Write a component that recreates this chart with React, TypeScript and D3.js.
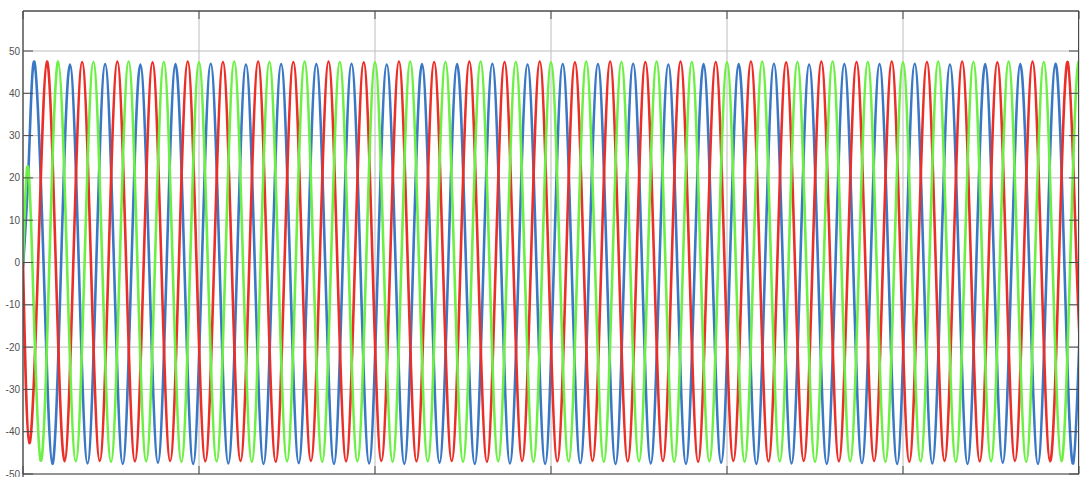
import React from "react";
import * as d3 from "d3";

// ---- data ----
// time axis: 0 .. 0.6 s, 50 Hz three-phase signals
const T_START = 0;
const T_END = 0.6;
const HALF_PERIOD = 0.01; // spacing between successive extrema (s)
const xGrid = [0, 0.1, 0.2, 0.3, 0.4, 0.5, 0.6];
const yTicks = [-50, -40, -30, -20, -10, 0, 10, 20, 30, 40, 50];
const Y_MIN = -50;

// start-up transient points [t, value]
const blueStart: [number, number][] = [[0, -1], [0.0033, 24]];
const redStart: [number, number][] = [[0, 0]];
const greenStart: [number, number][] = [[0, 0], [0.0024, 22.5], [0.0053, 0]];

// time of first regular extremum of each phase
const blueFirst = 0.00667;
const redFirst = 0.0036;
const greenFirst = 0.01;

// successive extrema (alternating peak / trough)
const blueExtrema = [
  47.1, -47.6, 46.8, -47.5, 46.9, -47.6, 46.8, -47.3, 46.9, -47.6,
  47.0, -47.5, 46.8, -47.6, 46.9, -47.4, 46.9, -47.6, 47.0, -47.5,
  46.8, -47.6, 46.9, -47.3, 46.9, -47.6, 47.0, -47.5, 46.8, -47.6,
  46.9, -47.4, 46.9, -47.6, 47.0, -47.5, 46.8, -47.6, 46.9, -47.3,
  46.9, -47.6, 47.0, -47.5, 46.8, -47.6, 46.9, -47.4, 46.9, -47.6,
  47.0, -47.5, 46.8, -47.6, 46.9, -47.3, 46.9, -47.6, 47.0, -47.5, 46.9,
];
const redExtrema = [
  -42.7, 47.5, -47.0, 47.4, -46.9, 47.5, -47.0, 47.3, -46.9, 47.5,
  -47.0, 47.4, -46.9, 47.5, -47.1, 47.4, -46.9, 47.5, -47.0, 47.3,
  -46.9, 47.5, -47.0, 47.4, -46.9, 47.5, -47.1, 47.4, -46.9, 47.5,
  -47.0, 47.3, -46.9, 47.5, -47.0, 47.4, -46.9, 47.5, -47.1, 47.4,
  -46.9, 47.5, -47.0, 47.3, -46.9, 47.5, -47.0, 47.4, -46.9, 47.5,
  -47.1, 47.4, -46.9, 47.5, -47.0, 47.3, -46.9, 47.5, -47.0, 47.4, -46.9,
];
const greenExtrema = [
  -46.8, 47.5, -47.0, 47.4, -47.1, 47.5, -47.0, 47.4, -47.1, 47.3,
  -47.0, 47.5, -47.1, 47.4, -47.0, 47.5, -47.1, 47.4, -47.0, 47.3,
  -47.1, 47.5, -47.0, 47.4, -47.1, 47.5, -47.0, 47.4, -47.1, 47.3,
  -47.0, 47.5, -47.1, 47.4, -47.0, 47.5, -47.1, 47.4, -47.0, 47.3,
  -47.1, 47.5, -47.0, 47.4, -47.1, 47.5, -47.0, 47.4, -47.1, 47.3,
  -47.0, 47.5, -47.1, 47.4, -47.0, 47.5, -47.1, 47.4, -47.0, 47.5, -47.1,
];

const seriesDefs = [
  { name: "A", color: "#3a78c6", start: blueStart, first: blueFirst, extrema: blueExtrema },
  { name: "B", color: "#ec2e28", start: redStart, first: redFirst, extrema: redExtrema },
  { name: "C", color: "#6cf044", start: greenStart, first: greenFirst, extrema: greenExtrema },
];

// build the points: extrema with zero crossings half-way between them
function buildPoints(def: typeof seriesDefs[number]): [number, number][] {
  const pts: [number, number][] = [...def.start];
  def.extrema.forEach((v, k) => {
    const t = def.first + k * HALF_PERIOD;
    if (k > 0) pts.push([t - HALF_PERIOD / 2, 0]);
    pts.push([t, v]);
  });
  return pts;
}

const W = 1080;
const H = 477;
const LEFT = 23;
const RIGHT = 1079;
const TOP = 11;

export default function App() {
  const x = d3.scaleLinear().domain([T_START, T_END]).range([LEFT, RIGHT]);
  const y = d3.scaleLinear().domain([Y_MIN, 50]).range([474, 51]);
  const bottom = y(Y_MIN);
  const line = d3
    .line<[number, number]>()
    .x((d) => x(d[0]))
    .y((d) => y(d[1]))
    .curve(d3.curveNatural);

  const frameColor = "#4a4a4a";
  const gridColor = "#bdbdbd";

  return (
    <svg
      width={W}
      height={H}
      style={{ position: "absolute", left: 0, top: 0, background: "#fff" }}
      fontFamily="'Liberation Sans', Arial, sans-serif"
    >
      <defs>
        <clipPath id="plotClip">
          <rect x={LEFT} y={TOP} width={RIGHT - LEFT} height={bottom - TOP} />
        </clipPath>
      </defs>
      {/* grid */}
      {yTicks.map((v) => (
        <line key={"gy" + v} x1={LEFT} x2={RIGHT} y1={y(v)} y2={y(v)} stroke={gridColor} strokeWidth={1} />
      ))}
      {xGrid.map((v) => (
        <line key={"gx" + v} x1={x(v)} x2={x(v)} y1={TOP} y2={bottom} stroke={gridColor} strokeWidth={1} />
      ))}
      {/* series */}
      <g clipPath="url(#plotClip)">
        {seriesDefs.map((s) => (
          <path
            key={s.name}
            d={line(buildPoints(s)) || ""}
            fill="none"
            stroke={s.color}
            strokeWidth={2.6}
            strokeLinejoin="round"
          />
        ))}
      </g>
      {/* frame */}
      <line x1={LEFT} x2={RIGHT} y1={TOP} y2={TOP} stroke={frameColor} strokeWidth={1.3} />
      <line x1={LEFT} x2={LEFT} y1={TOP} y2={bottom + 3} stroke={frameColor} strokeWidth={1.3} />
      <line x1={RIGHT - 0.5} x2={RIGHT - 0.5} y1={TOP} y2={bottom} stroke={frameColor} strokeWidth={1} />
      <line x1={LEFT} x2={RIGHT} y1={bottom} y2={bottom} stroke={frameColor} strokeWidth={1} />
      {/* y ticks */}
      {yTicks.map((v) => (
        <g key={"ty" + v}>
          <line x1={LEFT} x2={LEFT + 10} y1={y(v)} y2={y(v)} stroke={frameColor} strokeWidth={1} />
          <line x1={RIGHT - 10} x2={RIGHT} y1={y(v)} y2={y(v)} stroke={frameColor} strokeWidth={1} />
          <text x={LEFT - 3} y={y(v)} dy="0.35em" textAnchor="end" fontSize={10} fill="#505050">
            {v}
          </text>
        </g>
      ))}
      {/* x ticks */}
      {xGrid.map((v) => (
        <g key={"tx" + v}>
          <line x1={x(v)} x2={x(v)} y1={TOP} y2={TOP + 8} stroke={frameColor} strokeWidth={1} />
          <line x1={x(v)} x2={x(v)} y1={bottom - 8} y2={bottom} stroke={frameColor} strokeWidth={1} />
        </g>
      ))}
    </svg>
  );
}
